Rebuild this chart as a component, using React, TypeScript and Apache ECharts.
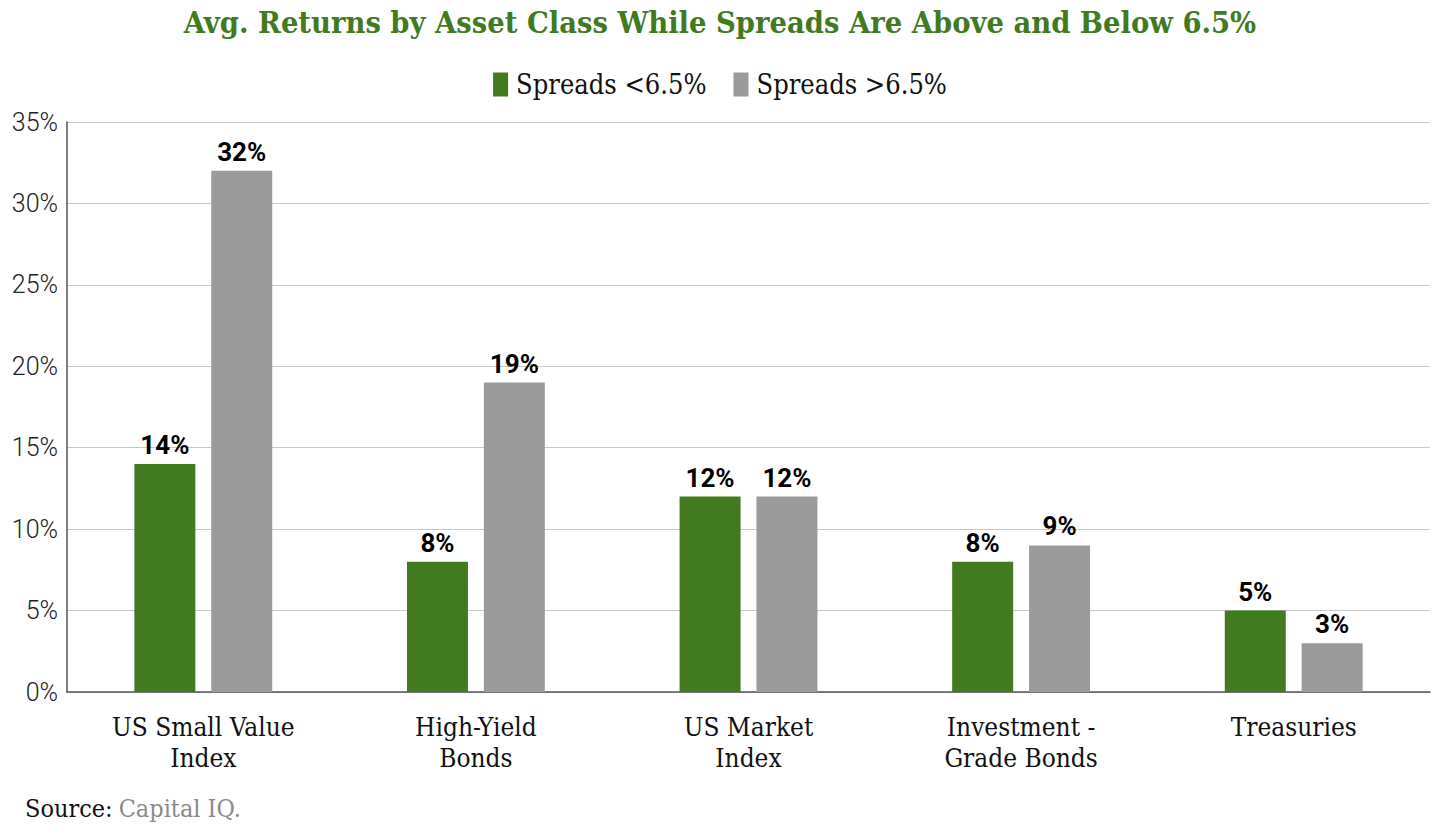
import React, { useEffect, useRef } from "react";
import * as echarts from "echarts";

const categories = ["US Small Value\nIndex", "High-Yield\nBonds", "US Market\nIndex", "Investment -\nGrade Bonds", "Treasuries"];
const below = [14, 8, 12, 8, 5];
const above = [32, 19, 12, 9, 3];
const seriesNames = ["Spreads <6.5%", "Spreads >6.5%"];

const SLAB = "'DejaVu Serif Condensed', 'DejaVu Serif', serif";
const SANS = "Roboto, 'Noto Sans', sans-serif";

export default function App() {
  const ref = useRef<HTMLDivElement>(null);
  useEffect(() => {
    document.body.style.margin = "0";
    const chart = echarts.init(ref.current!, null, { renderer: "svg" });
    const label = {
      show: true,
      position: "top",
      distance: 6,
      formatter: "{c}%",
      fontFamily: SANS,
      fontWeight: "bold",
      fontSize: 26,
      color: "#000",
    };
    chart.setOption({
      animation: false,
      title: {
        text: "Avg. Returns by Asset Class While Spreads Are Above and Below 6.5%",
        left: "center",
        top: 1,
        textStyle: { fontFamily: SLAB, fontWeight: "bold", fontSize: 30.5, color: "#427a1f" },
      },
      legend: {
        top: 66,
        left: "center",
        itemWidth: 15,
        itemHeight: 24,
        itemGap: 27,
        icon: "rect",
        textStyle: { fontFamily: SLAB, fontSize: 27, color: "#111", padding: [0, 0, 0, 3] },
        data: seriesNames,
      },
      grid: { left: 67, right: 10, top: 122, bottom: 148, containLabel: false },
      xAxis: {
        type: "category",
        data: categories,
        axisLine: { lineStyle: { color: "#555", width: 1.5 } },
        axisTick: { show: false },
        axisLabel: { fontFamily: SLAB, fontSize: 26, color: "#111", lineHeight: 31, margin: 19 },
      },
      yAxis: {
        type: "value",
        min: 0,
        max: 35,
        interval: 5,
        axisLine: { show: true, lineStyle: { color: "#555", width: 1.5 } },
        axisTick: { show: false },
        splitLine: { lineStyle: { color: "#c8c8c8", width: 1 } },
        axisLabel: { formatter: "{value}%", fontFamily: SANS, fontWeight: 300, fontSize: 25, color: "#222", margin: 9 },
      },
      series: [
        { name: seriesNames[0], type: "bar", data: below, barWidth: 61, barGap: "26%", itemStyle: { color: "#427a1f" }, label },
        { name: seriesNames[1], type: "bar", data: above, barWidth: 61, itemStyle: { color: "#9b9b9b" }, label },
      ],
      graphic: [
        {
          type: "text",
          left: 25,
          top: 796,
          style: {
            rich: {
              a: { fontFamily: SLAB, fontSize: 25, fill: "#111" },
              b: { fontFamily: SLAB, fontSize: 25, fill: "#8a8a8a", padding: [0, 0, 0, 6] },
            },
            text: "{a|Source:}{b|Capital IQ.}",
          },
        },
      ],
    });
    return () => chart.dispose();
  }, []);
  return <div ref={ref} style={{ width: 1440, height: 840 }} />;
}
